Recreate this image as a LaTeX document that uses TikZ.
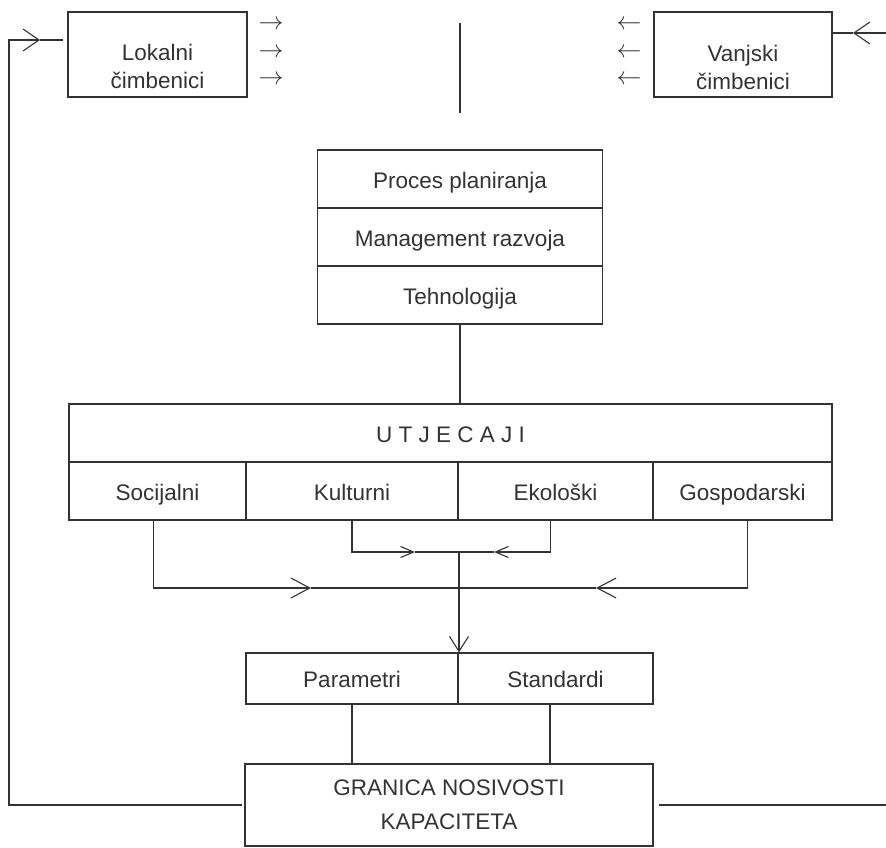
\documentclass[tikz,border=0pt]{standalone}
\usepackage{fontspec}
\setmainfont{Liberation Sans}
\usetikzlibrary{arrows.meta, positioning, calc}

\begin{document}
\begin{tikzpicture}[x=1pt, y=-1pt, color=black!80, line width=1.1pt,
    box/.style={draw, inner sep=0pt, font=\fontsize{22.5pt}{28pt}\selectfont},
    cell/.style={box, text height=20pt, text depth=2pt},
    txt/.style={inner sep=0pt, align=center, font=\fontsize{22.5pt}{28pt}\selectfont},
    sarr/.style={inner sep=0pt, font=\fontsize{24.88pt}{27pt}\selectfont},
    barbout/.style={-{Straight Barb[length=19pt,width=20pt]}},
    barbin/.style={-{Straight Barb[length=13pt,width=11pt]}},
    barbdn/.style={-{Straight Barb[length=15pt,width=19pt]}},
    barbfb/.style={-{Straight Barb[length=16pt,width=22pt]}}]
    \useasboundingbox (0,0) rectangle (886,848);

    % lokalni / vanjski
    \node[box, minimum width=179pt, minimum height=85pt] (lok) at (157.5,54.5) {};
    \node[txt] (lokt) at (157.5,66) {Lokalni\\čimbenici};
    \node[box, minimum width=178pt, minimum height=85pt] (van) at (743,54.5) {};
    \node[txt] (vant) at (743,67) {Vanjski\\čimbenici};
    \foreach \i/\y in {1/25,2/53,3/80} {
        \node[sarr] (la\i) at (271,\y) {$\rightarrow$};
        \node[sarr] (ra\i) at (629,\y) {$\leftarrow$};
    }
    \draw (460,23) -- (460,113);

    % proces
    \node[cell, minimum width=285pt, minimum height=58pt] (proc) at (460,179) {Proces planiranja};
    \node[cell, minimum width=285pt, minimum height=58pt] (mgmt) at (460,237) {Management razvoja};
    \node[cell, minimum width=285pt, minimum height=58pt] (teh) at (460,295) {Tehnologija};

    % utjecaji
    \node[cell, minimum width=763pt, minimum height=58pt] (utj) at (450.5,433) {U T J E C A J I};
    \node[cell, minimum width=177pt, minimum height=58pt] (soc) at (157.5,491) {Socijalni};
    \node[cell, minimum width=212pt, minimum height=58pt] (kul) at (352,491) {Kulturni};
    \node[cell, minimum width=195pt, minimum height=58pt] (eko) at (555.5,491) {Ekološki};
    \node[cell, minimum width=179pt, minimum height=58pt] (gos) at (742.5,491) {Gospodarski};
    \draw (teh.south) -- (teh.south |- utj.north);

    % parametri, standardi, granica
    \node[cell, minimum width=212pt, minimum height=51pt] (par) at (352,678.5) {Parametri};
    \node[cell, minimum width=195pt, minimum height=51pt] (std) at (555.5,678.5) {Standardi};
    \node[box, minimum width=408pt, minimum height=82pt, align=center,
        font=\fontsize{22.5pt}{34pt}\selectfont] (gran) at (449,805) {GRANICA NOSIVOSTI\\KAPACITETA};

    % spojevi
    \coordinate (j1) at (459,552);
    \coordinate (j2) at (459,588);
    \coordinate (tk) at (415,552);
    \coordinate (te) at (494,552);
    \coordinate (ts) at (311,588);
    \coordinate (tg) at (596,588);
    \draw[barbin] (kul.south) |- (tk);
    \draw (tk) -- (j1);
    \draw[barbin] ([xshift=-5pt]eko.south) |- (te);
    \draw (te) -- (j1);
    \draw[barbout] ([xshift=-4pt]soc.south) |- (ts);
    \draw (ts) -- (j2);
    \draw[barbout] ([xshift=5pt]gos.south) |- (tg);
    \draw (tg) -- (j2);
    \draw[barbdn] (j1) -- (j1 |- par.north);
    \draw (par.south) -- (par.south |- gran.north);
    \draw ([xshift=-5.5pt]std.south) -- ([xshift=-5.5pt]std.south |- gran.north);

    % povratna veza
    \coordinate (cl) at (9,40);
    \coordinate (tl) at (40,40);
    \coordinate (el) at (63,40);
    \draw[barbfb] ([xshift=-2pt]gran.west) -| (cl) -- (tl);
    \draw (tl) -- (el);
    \coordinate (er) at (886,805);
    \draw ([xshift=5pt]gran.east) -- (er);
    \coordinate (rv) at (886,33);
    \coordinate (tv) at (853,33);
    \draw[barbfb] (rv) -- (tv);
    \draw (tv) -- (van.east |- tv);
\end{tikzpicture}
\end{document}
